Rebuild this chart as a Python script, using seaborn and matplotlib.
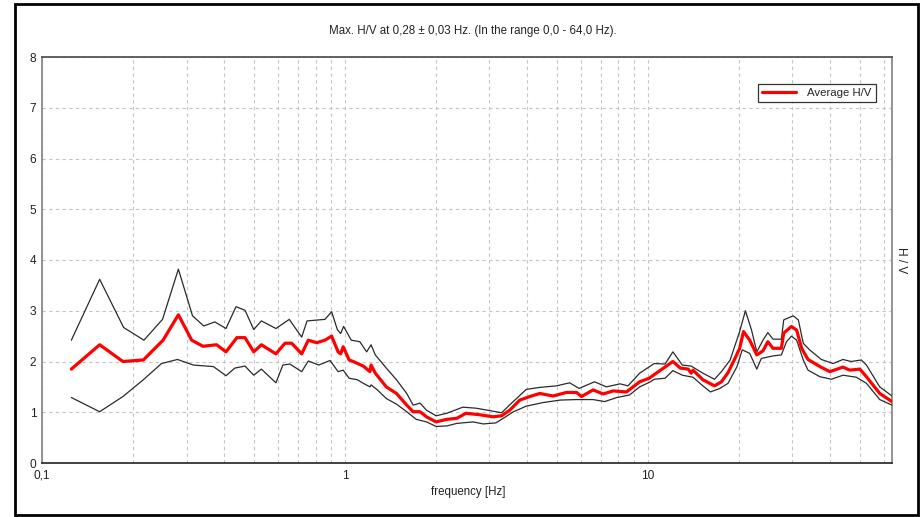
import matplotlib
matplotlib.use("Agg")
import matplotlib.pyplot as plt
import seaborn as sns
from matplotlib.patches import Rectangle
from matplotlib.ticker import LogLocator, FixedLocator, FuncFormatter, NullFormatter

# ---- data ----
f_avg = [0.125, 0.155, 0.185, 0.216, 0.251, 0.282, 0.312, 0.34, 0.377, 0.405,
         0.44, 0.468, 0.5, 0.53, 0.592, 0.634, 0.667, 0.72, 0.757, 0.807,
         0.859, 0.904, 0.95, 0.968, 0.987, 1.033, 1.065, 1.15, 1.21, 1.22,
         1.26, 1.37, 1.48, 1.6, 1.68, 1.77, 1.86, 2.0, 2.17, 2.34,
         2.51, 2.79, 3.09, 3.29, 3.5, 3.78, 4.08, 4.4, 4.87, 5.38,
         5.82, 6.04, 6.6, 7.12, 7.68, 8.5, 9.4, 10.1, 10.96, 12.1,
         12.8, 13.6, 13.9, 14.1, 15.2, 16.6, 17.5, 18.4, 19.4, 20.1,
         20.7, 21.7, 22.9, 24.0, 24.9, 25.9, 27.6, 28.1, 29.8, 31.0,
         32.2, 33.8, 37.0, 39.9, 44.1, 46.4, 50.1, 52.7, 58.3, 64]
hv_avg = [1.85, 2.33, 2.0, 2.03, 2.42, 2.92, 2.42, 2.3, 2.33, 2.19,
          2.47, 2.47, 2.19, 2.33, 2.15, 2.36, 2.36, 2.15, 2.42, 2.37,
          2.42, 2.5, 2.19, 2.15, 2.29, 2.03, 2.0, 1.91, 1.8, 1.93,
          1.77, 1.5, 1.37, 1.14, 1.01, 1.01, 0.91, 0.81, 0.86, 0.88,
          0.98, 0.95, 0.91, 0.93, 1.04, 1.24, 1.31, 1.37, 1.32, 1.39,
          1.39, 1.31, 1.44, 1.36, 1.42, 1.4, 1.6, 1.67, 1.82, 2.0,
          1.87, 1.85, 1.77, 1.83, 1.64, 1.52, 1.6, 1.78, 2.06, 2.26,
          2.59, 2.42, 2.13, 2.21, 2.39, 2.26, 2.26, 2.56, 2.69, 2.62,
          2.26, 2.04, 1.9, 1.8, 1.89, 1.83, 1.85, 1.7, 1.37, 1.21]

f_up = [0.125, 0.155, 0.186, 0.217, 0.25, 0.282, 0.314, 0.342, 0.372, 0.405,
        0.437, 0.468, 0.5, 0.53, 0.592, 0.655, 0.72, 0.75, 0.859, 0.904,
        0.944, 0.968, 0.99, 1.05, 1.12, 1.18, 1.22, 1.26, 1.37, 1.48,
        1.6, 1.68, 1.77, 1.86, 2.0, 2.17, 2.45, 2.71, 3.09, 3.29,
        3.55, 3.97, 4.4, 4.99, 5.52, 5.93, 6.67, 7.3, 8.1, 8.6,
        9.4, 10.5, 11.4, 12.1, 13.0, 13.9, 15.2, 16.6, 17.5, 18.7,
        20.1, 21.0, 22.0, 22.9, 24.0, 24.9, 25.9, 27.6, 28.1, 30.2,
        31.4, 32.6, 34.2, 37.4, 40.9, 44.1, 46.9, 50.7, 52.7, 58.3, 64]
hv_up = [2.42, 3.62, 2.67, 2.42, 2.83, 3.82, 2.9, 2.7, 2.78, 2.65,
         3.08, 3.01, 2.63, 2.8, 2.65, 2.83, 2.48, 2.8, 2.83, 2.98,
         2.63, 2.55, 2.69, 2.42, 2.39, 2.19, 2.33, 2.13, 1.87, 1.64,
         1.37, 1.14, 1.18, 1.04, 0.93, 0.98, 1.1, 1.08, 1.02, 0.99,
         1.18, 1.45, 1.49, 1.52, 1.58, 1.47, 1.6, 1.5, 1.56, 1.52,
         1.77, 1.96, 1.95, 2.19, 1.93, 1.91, 1.77, 1.65, 1.8, 2.03,
         2.59, 3.0, 2.62, 2.19, 2.42, 2.57, 2.44, 2.44, 2.82, 2.9,
         2.82, 2.36, 2.23, 2.04, 1.96, 2.04, 2.0, 2.03, 1.93, 1.5, 1.32]

f_lo = [0.125, 0.155, 0.185, 0.216, 0.248, 0.28, 0.316, 0.368, 0.405, 0.433,
        0.468, 0.5, 0.53, 0.592, 0.624, 0.658, 0.72, 0.757, 0.82, 0.893,
        0.95, 0.987, 1.033, 1.1, 1.15, 1.21, 1.22, 1.28, 1.37, 1.48,
        1.6, 1.72, 1.86, 2.0, 2.17, 2.34, 2.65, 2.86, 3.15, 3.33,
        3.6, 3.97, 4.5, 5.14, 5.82, 6.6, 7.2, 7.9, 8.7, 9.4,
        10.2, 10.5, 11.4, 12.1, 13.0, 14.1, 15.2, 16.1, 17.3, 18.4,
        19.7, 20.5, 21.7, 22.9, 23.7, 25.9, 27.6, 28.7, 29.8, 31.0,
        32.6, 33.8, 37.0, 40.4, 44.1, 48.8, 52.7, 58.3, 64]
hv_lo = [1.29, 1.01, 1.31, 1.64, 1.96, 2.04, 1.93, 1.9, 1.72, 1.87,
         1.91, 1.73, 1.85, 1.58, 1.93, 1.95, 1.8, 2.01, 1.93, 2.02,
         1.8, 1.83, 1.67, 1.64, 1.57, 1.5, 1.54, 1.44, 1.27, 1.16,
         1.01, 0.86, 0.81, 0.72, 0.73, 0.78, 0.81, 0.77, 0.79, 0.88,
         1.01, 1.12, 1.19, 1.24, 1.25, 1.25, 1.21, 1.29, 1.34, 1.5,
         1.6, 1.65, 1.67, 1.82, 1.73, 1.69, 1.52, 1.4, 1.47, 1.57,
         1.9, 2.23, 2.16, 1.85, 2.06, 2.11, 2.13, 2.39, 2.5, 2.42,
         2.03, 1.83, 1.7, 1.65, 1.73, 1.69, 1.57, 1.25, 1.14]

x_major = [0.1, 1, 10]
x_major_labels = ["0,1", "1", "10"]
y_ticks = [0, 1, 2, 3, 4, 5, 6, 7, 8]

title_text = "Max. H/V at 0,28 \u00b1 0,03 Hz. (In the range 0,0 - 64,0 Hz)."
xlabel_text = "frequency [Hz]"
ylabel_text = "H / V"
legend_text = "Average H/V"

# ---- styling ----
sns.set_theme(style="white")
plt.rcParams["font.family"] = ["Liberation Sans", "DejaVu Sans"]

W, H = 921, 517
fig = plt.figure(figsize=(W / 100, H / 100), dpi=100)
fig.patch.set_facecolor("white")

# outer frame
fig.patches.append(Rectangle((15 / W, 2 / H), 903 / W, 511 / H, transform=fig.transFigure,
                             fill=False, edgecolor="black", linewidth=2.0, zorder=0))

ax = fig.add_axes([42 / W, 1 - 463 / H, 850 / W, 406 / H])
ax.set_facecolor("white")

sns.lineplot(x=f_up, y=hv_up, ax=ax, color="#2a2a2a", linewidth=0.9, sort=False,
             legend=False, zorder=3)
sns.lineplot(x=f_lo, y=hv_lo, ax=ax, color="#2a2a2a", linewidth=0.9, sort=False,
             legend=False, zorder=3)
sns.lineplot(x=f_avg, y=hv_avg, ax=ax, color="#ff0000", linewidth=2.3, sort=False,
             label=legend_text, zorder=4)

ax.set_xscale("log")
ax.set_xlim(0.1, 64)
ax.set_ylim(0, 8)
ax.xaxis.set_major_locator(FixedLocator(x_major))
ax.xaxis.set_major_formatter(FuncFormatter(lambda v, p: x_major_labels[x_major.index(v)] if v in x_major else ""))
ax.xaxis.set_minor_locator(LogLocator(base=10, subs=[2, 3, 4, 5, 6, 7, 8, 9], numticks=20))
ax.xaxis.set_minor_formatter(NullFormatter())
ax.set_yticks(y_ticks)
ax.set_yticklabels([str(v) for v in y_ticks])

grid_kw = dict(color="#c4c4c4", linewidth=0.8, linestyle=(0, (3, 3)))
ax.grid(True, which="both", axis="x", **grid_kw)
ax.grid(True, which="major", axis="y", **grid_kw)
ax.set_axisbelow(True)

ax.tick_params(axis="both", which="both", length=0, labelsize=8.6, colors="#222222")
ax.tick_params(axis="x", pad=5)
ax.tick_params(axis="y", pad=4)

ax.spines["left"].set_color("#8a8a8a")
ax.spines["bottom"].set_color("#333333")
ax.spines["top"].set_color("#555555")
ax.spines["right"].set_color("#8a8a8a")
for s in ax.spines.values():
    s.set_linewidth(1.3)
    s.set_visible(True)

ax.set_xlabel("")
ax.set_ylabel("")

leg = ax.legend(loc="upper right", bbox_to_anchor=(0.981, 0.934), frameon=True,
                fancybox=False, edgecolor="black", fontsize=8.2, handlelength=3.0,
                borderpad=0.35, handletextpad=1.0, borderaxespad=0)
leg.get_frame().set_linewidth(0.9)

fig.text(473 / W, 1 - 31 / H, title_text, ha="center", va="center", fontsize=8.3, color="#222222")
fig.text(468 / W, 1 - 492 / H, xlabel_text, ha="center", va="center", fontsize=8.3, color="#222222")
fig.text(901 / W, 1 - 260 / H, ylabel_text, ha="center", va="center", rotation=-90,
         fontsize=8.6, color="#222222")

fig.savefig("out.png", dpi=100, facecolor="white")
